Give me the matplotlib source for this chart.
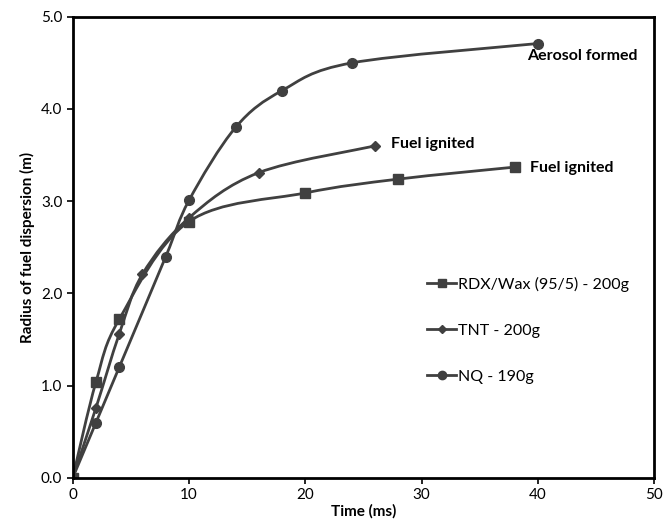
import numpy as np
import matplotlib.pyplot as plt
from matplotlib.path import Path
from matplotlib.patches import PathPatch
from matplotlib.lines import Line2D

plt.rcParams['font.family'] = ['Lato', 'DejaVu Sans']

# data
rdx_t = [0, 2, 4, 10, 20, 28, 38]
rdx_r = [0, 1.04, 1.72, 2.78, 3.09, 3.24, 3.37]
tnt_t = [0, 2, 4, 6, 10, 16, 26]
tnt_r = [0, 0.76, 1.56, 2.21, 2.82, 3.31, 3.60]
nq_t = [0, 2, 4, 8, 10, 14, 18, 24, 40]
nq_r = [0, 0.60, 1.20, 2.40, 3.01, 3.80, 4.20, 4.50, 4.71]

labels = ['RDX/Wax (95/5) - 200g', 'TNT - 200g', 'NQ - 190g']
markers = ['s', 'D', 'o']
col = '#404040'


def smooth_path(x, y):
    # excel-like smoothed line (catmull-rom as bezier)
    p = np.column_stack([x, y]).astype(float)
    verts = [p[0]]
    codes = [Path.MOVETO]
    n = len(p)
    for i in range(n - 1):
        p0 = p[i - 1] if i > 0 else p[i]
        p3 = p[i + 2] if i + 2 < n else p[i + 1]
        c1 = p[i] + (p[i + 1] - p0) / 6
        c2 = p[i + 1] - (p3 - p[i]) / 6
        verts += [c1, c2, p[i + 1]]
        codes += [Path.CURVE4] * 3
    return Path(verts, codes)


fig = plt.figure(figsize=(6.67, 5.24), dpi=100)
ax = fig.add_axes([0.109, 0.088, 0.872, 0.880])

series = [(rdx_t, rdx_r), (tnt_t, tnt_r), (nq_t, nq_r)]
ms = [7, 5, 7]
leg_ms = [6, 4.5, 6]
handles = []
for (t, r), m, s, ls, lab in zip(series, markers, ms, leg_ms, labels):
    ax.add_patch(PathPatch(smooth_path(t, r), facecolor='none', edgecolor=col, lw=2))
    ax.plot(t, r, linestyle='none', marker=m, ms=s, color=col)
    handles.append(Line2D([], [], color=col, lw=2, marker=m, ms=ls, label=lab))

ax.text(39.1, 4.57, 'Aerosol formed', fontsize=11.5, fontweight='bold', va='center')
ax.text(27.4, 3.62, 'Fuel ignited', fontsize=11.5, fontweight='bold', va='center')
ax.text(39.3, 3.36, 'Fuel ignited', fontsize=11.5, fontweight='bold', va='center')

ax.set_xlim(0, 50)
ax.set_ylim(0, 5.0)
ax.set_xticks(range(0, 51, 10))
ax.set_yticks(np.arange(0, 5.01, 1.0))
ax.set_yticklabels([f'{v:.1f}' for v in np.arange(0, 5.01, 1.0)])
ax.tick_params(labelsize=11, direction='out', length=4, width=1.2)
for sp in ax.spines.values():
    sp.set_linewidth(2)

ax.set_xlabel('Time (ms)', fontsize=11, fontweight='bold', labelpad=1)
ax.set_ylabel('Radius of fuel dispersion (m)', fontsize=11, fontweight='bold')

ax.legend(handles=handles, loc='center left', bbox_to_anchor=(0.585, 0.320),
          frameon=False, fontsize=11.5, labelspacing=2.0, handlelength=1.8,
          handletextpad=0.1)

plt.savefig('out.png')
